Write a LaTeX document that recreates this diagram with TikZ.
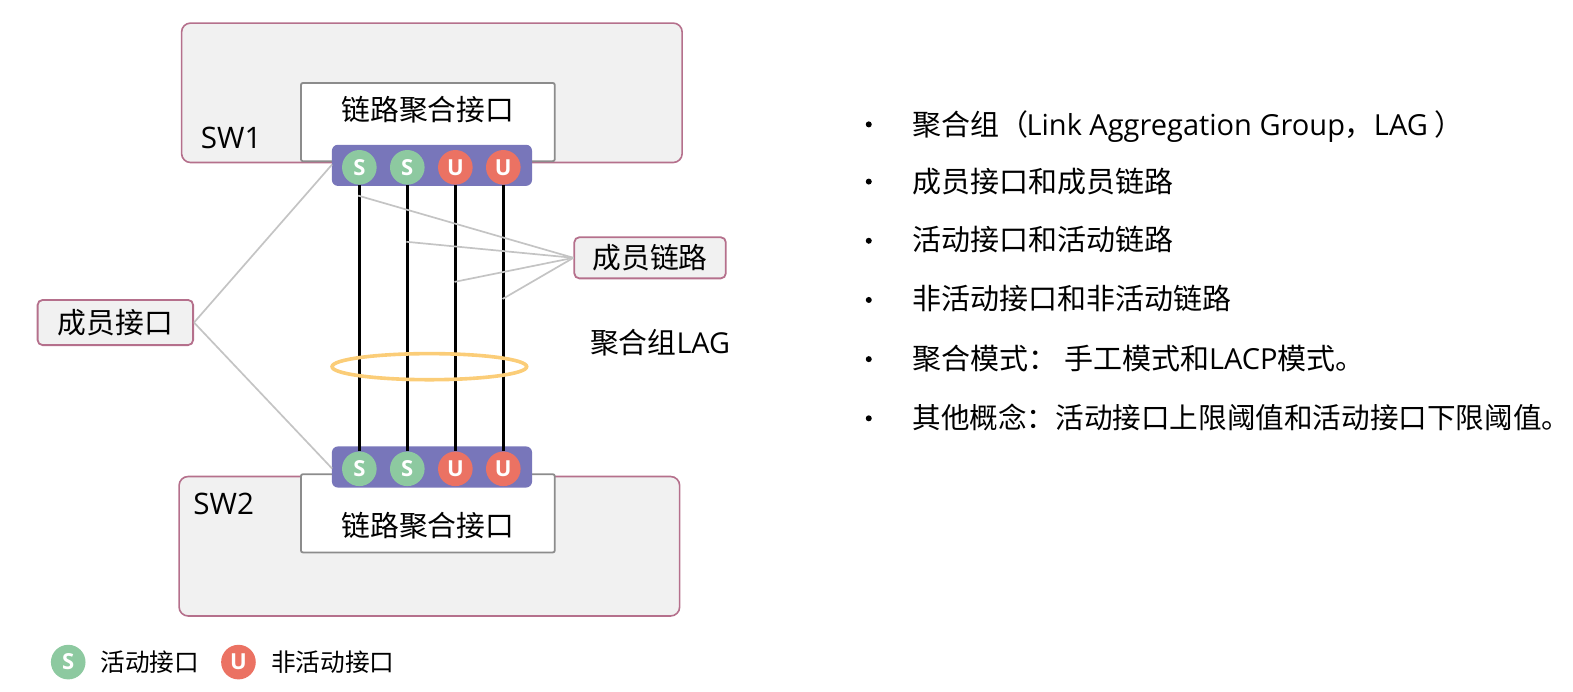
\documentclass[tikz,border=0pt]{standalone}
\usepackage{fontspec}
\setmainfont{Open Sans}
\newfontfamily\cj{Noto Sans CJK SC}
\newfontfamily\lat{Open Sans}
\usetikzlibrary{calc,shapes.geometric}
\definecolor{swfill}{HTML}{F1F1F1}
\definecolor{swline}{HTML}{B5708C}
\definecolor{boxline}{HTML}{8C8C8C}
\definecolor{barfill}{HTML}{7876BA}
\definecolor{sgreen}{HTML}{8DC9A0}
\definecolor{ured}{HTML}{EB7263}
\definecolor{leader}{HTML}{C4C4C4}
\definecolor{lagring}{HTML}{FBCD78}
\tikzset{
  x=1bp,y=-1bp,
  swbox/.style={draw=swline,fill=swfill,line width=1.6bp,rounded corners=9bp},
  lagbox/.style={draw=boxline,fill=white,line width=1.8bp,rounded corners=2bp},
  bar/.style={fill=barfill,draw=none,rounded corners=6bp},
  sport/.style={circle,fill=sgreen,draw=none,minimum size=34.5bp,inner sep=0pt,text=white,font=\fontsize{22bp}{22bp}\selectfont\bfseries},
  uport/.style={circle,fill=ured,draw=none,minimum size=34.5bp,inner sep=0pt,text=white,font=\fontsize{22bp}{22bp}\selectfont\bfseries},
  tag/.style={draw=swline,fill=swfill,line width=1.8bp,rounded corners=5bp,inner sep=0pt},
  link/.style={draw=black,line width=3.3bp},
  lead/.style={draw=leader,line width=1.7bp},
  lab/.style={inner sep=0pt,font=\fontsize{28.7bp}{28.7bp}\selectfont\cj},
  swlab/.style={inner sep=0pt,font=\fontsize{29.5bp}{29.5bp}\selectfont},
  legend/.style={inner sep=0pt,anchor=west,font=\fontsize{24.6bp}{24.6bp}\selectfont\cj},
  item/.style={inner sep=0pt,anchor=base west,font=\fontsize{28.9bp}{28.9bp}\selectfont\cj},
  itemlong/.style={inner sep=0pt,anchor=base west,font=\fontsize{28.5bp}{28.5bp}\selectfont\cj},
  dotmark/.style={circle,fill=black,draw=none,minimum size=6bp,inner sep=0pt},
}
\begin{document}
\begin{tikzpicture}
\useasboundingbox (0,0) rectangle (1568,689.8);
% switches
\node[swbox,minimum width=499bp,minimum height=139bp,inner sep=0pt] (sw1) at (430.5,92.5) {};
\node[swbox,minimum width=499bp,minimum height=139bp,inner sep=0pt] (sw2) at (428,544.5) {};
\node[lagbox,minimum width=253bp,minimum height=78bp,inner sep=0pt] (la1) at (426.5,121.7) {};
\node[lagbox,minimum width=253bp,minimum height=78bp,inner sep=0pt] (la2) at (426.5,511.7) {};
\node[lab] (la1t) at (426.5,109) {链路聚合接口};
\node[lab] (la2t) at (426.5,524) {链路聚合接口};
\node[swlab] (sw1t) at (230.5,137) {SW1};
\node[swlab] (sw2t) at (223,502) {SW2};
% port bars
\node[bar,minimum width=199.5bp,minimum height=41bp,inner sep=0pt] (bar1) at (430.6,164.8) {};
\node[bar,minimum width=199.5bp,minimum height=41bp,inner sep=0pt] (bar2) at (430.6,465.5) {};
\node[sport] (a1) at (358.2,166.8) {S};
\node[sport] (a2) at (406,166.8) {S};
\node[uport] (a3) at (453.9,166.8) {U};
\node[uport] (a4) at (501.7,166.8) {U};
\node[sport] (b1) at (358.2,467.3) {S};
\node[sport] (b2) at (406,467.3) {S};
\node[uport] (b3) at (453.9,467.3) {U};
\node[uport] (b4) at (501.7,467.3) {U};
% member links
\draw[link] (a1.south) -- (b1.north);
\draw[link] (a2.south) -- (b2.north);
\draw[link] (a3.south) -- (b3.north);
\draw[link] (a4.south) -- (b4.north);
% aggregation ring
\node[draw=lagring,line width=3.6bp,ellipse,minimum width=194bp,minimum height=26bp,inner sep=0pt] (ring) at (428,365.5) {};
% tags
\node[tag,minimum width=155bp,minimum height=45bp] (tagif) at (115,321.5) {};
\node[lab] (tagift) at (115,321.5) {成员接口};
\node[tag,minimum width=151bp,minimum height=41bp] (taglk) at (648,257) {};
\node[lab] (taglkt) at (648,257) {成员链路};
% leaders
\coordinate (p1) at (357,195);
\coordinate (p2) at (405,241);
\coordinate (p3) at (453,281);
\coordinate (p4) at (501,298);
\draw[lead] (taglk.west) -- (p1);
\draw[lead] (taglk.west) -- (p2);
\draw[lead] (taglk.west) -- (p3);
\draw[lead] (taglk.west) -- (p4);
\coordinate (q1) at (331,164);
\coordinate (q2) at (331,467);
\draw[lead] (tagif.east) -- (q1);
\draw[lead] (tagif.east) -- (q2);
% LAG label
\node[inner sep=0pt,font=\fontsize{28.7bp}{28.7bp}\selectfont] (lag) at (658,342) {{\cj 聚合组}LAG};
% legend
\node[sport] (ls) at (68,660) {S};
\node[legend] (lst) at (100,660.5) {活动接口};
\node[uport] (lu) at (237.7,660) {U};
\node[legend] (lut) at (270,660.5) {非活动接口};
% bullet list
\node[dotmark] (d1) at (866,124) {};
\node[dotmark] (d2) at (866,181) {};
\node[dotmark] (d3) at (866,240) {};
\node[dotmark] (d4) at (866,299) {};
\node[dotmark] (d5) at (866,358) {};
\node[dotmark] (d6) at (866,417) {};
\node[item] (t1) at (909.5,135) {聚合组（\hspace{-2bp}{\lat Link Aggregation Group}，{\lat LAG} ）};
\node[item] (t2) at (909.5,192) {成员接口和成员链路};
\node[item] (t3) at (909.5,250) {活动接口和活动链路};
\node[item] (t4) at (909.5,309) {非活动接口和非活动链路};
\node[item] (t5) at (909.5,368) {聚合模式： 手工模式和{\lat LACP}模式。};
\node[itemlong] (t6) at (909.5,427) {其他概念：活动接口上限阈值和活动接口下限阈值。};
\end{tikzpicture}
\end{document}
